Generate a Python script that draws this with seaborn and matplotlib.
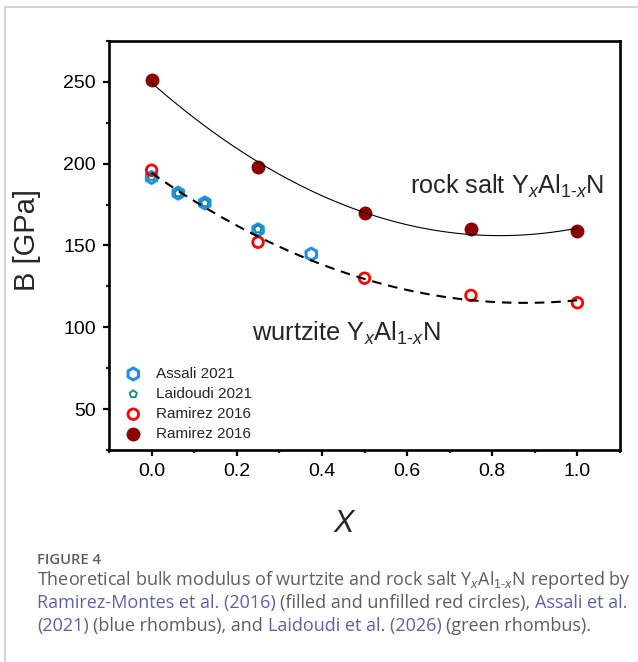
import numpy as np
import pandas as pd
import matplotlib
matplotlib.use("Agg")
import matplotlib.pyplot as plt
from matplotlib.lines import Line2D
import seaborn as sns

# ---------------- data ----------------
x_rs = [0.0, 0.25, 0.5, 0.75, 1.0]
B_rs = [251, 198, 170, 160, 159]           # Ramirez 2016, rock salt (filled)
x_wz = [0.0, 0.25, 0.5, 0.75, 1.0]
B_wz = [196, 152, 130, 119.5, 115]         # Ramirez 2016, wurtzite (open)
x_assali = [0.0, 0.0625, 0.125, 0.25, 0.375]
B_assali = [191.6, 182, 176, 159.6, 144.7]
x_laid = [0.0, 0.0625, 0.125, 0.25]
B_laid = [192, 182, 176, 160]

xticks = [0.0, 0.2, 0.4, 0.6, 0.8, 1.0]
yticks = [50, 100, 150, 200, 250]

W, H = 638, 662
DPI = 100

sns.set_style("ticks")
plt.rcParams["font.family"] = ["Liberation Sans", "DejaVu Sans"]
plt.rcParams["mathtext.fontset"] = "custom"
plt.rcParams["mathtext.rm"] = "Liberation Sans"
plt.rcParams["mathtext.it"] = "Liberation Sans:italic"
plt.rcParams["mathtext.bf"] = "Liberation Sans:bold"

fig = plt.figure(figsize=(W / DPI, H / DPI), dpi=DPI)
fig.patch.set_facecolor("white")

def px(x, y):
    return x / W, 1 - y / H

l, r, t, b = 109, 620, 41, 450
ax = fig.add_axes([l / W, 1 - b / H, (r - l) / W, (b - t) / H])
ax.set_facecolor("white")

# markers
sns.scatterplot(x=x_assali, y=B_assali, ax=ax, marker="h", s=75,
                facecolor="none", edgecolor="#1f8fef", linewidth=2.2,
                label="Assali 2021", zorder=3)
sns.scatterplot(x=x_laid, y=B_laid, ax=ax, marker="p", s=30,
                facecolor="none", edgecolor="#12898c", linewidth=1.3,
                label="Laidoudi 2021", zorder=4)
sns.scatterplot(x=x_wz, y=B_wz, ax=ax, marker="o", s=58,
                facecolor="none", edgecolor="#ff0000", linewidth=2.0,
                label="Ramirez 2016", zorder=4)
sns.scatterplot(x=x_rs, y=B_rs, ax=ax, marker="o", s=100,
                color="#8b0000", edgecolor="#8b0000", linewidth=0,
                label="Ramirez 2016", zorder=4)

# polynomial fits
sns.regplot(x=x_rs, y=B_rs, order=2, ci=None, scatter=False, truncate=True,
            ax=ax, line_kws=dict(color="black", lw=0.8, zorder=6))
sns.regplot(x=x_wz, y=B_wz, order=2, ci=None, scatter=False, truncate=True,
            ax=ax, line_kws=dict(color="black", lw=1.5, dashes=(4.6, 3.3), zorder=6))

ax.set_xlim(-0.1, 1.1)
ax.set_ylim(25, 275)
ax.set_xticks(xticks)
ax.set_xticklabels([f"{v:.1f}" for v in xticks])
ax.set_yticks(yticks)
ax.set_xticks(np.arange(-0.1, 1.15, 0.2), minor=True)
ax.set_yticks([25, 75, 125, 175, 225, 275], minor=True)
ax.tick_params(axis="both", which="major", direction="out", length=4.5,
               width=1.6, labelsize=14, pad=5, colors="black")
ax.tick_params(axis="both", which="minor", direction="out", length=2.5,
               width=1.6)
ax.tick_params(top=False, right=False, which="both")
for s in ax.spines.values():
    s.set_visible(True)
    s.set_linewidth(1.9)
    s.set_color("black")

ax.set_xlabel("$X$", fontsize=22)
ax.xaxis.set_label_coords((345 - l) / (r - l), (b - 509) / (b - t))
ax.set_ylabel("B [GPa]", fontsize=21)
ax.yaxis.set_label_coords((41 - l) / (r - l), (b - 240) / (b - t))

def axc(x, y):
    return (x - l) / (r - l), (b - y) / (b - t)

ax.text(*axc(410, 194), r"rock salt Y$_x$Al$_{1\text{-}x}$N", transform=ax.transAxes,
        fontsize=18.2, ha="left", va="baseline")
ax.text(*axc(252, 341), r"wurtzite Y$_x$Al$_{1\text{-}x}$N", transform=ax.transAxes,
        fontsize=18.4, ha="left", va="baseline")

leg = ax.legend(loc="upper left", bbox_to_anchor=axc(126, 367), frameon=False,
                fontsize=11, handlelength=0.95, handletextpad=1.0,
                labelspacing=0.4, borderpad=0, borderaxespad=0)

# ---------------- card frame ----------------
fig.add_artist(Line2D([4.5 / W, 4.5 / W], [0, 1 - 7 / H], color="#c8c8c8", lw=1.1,
                      transform=fig.transFigure))
fig.add_artist(Line2D([4.5 / W, 1], [1 - 7 / H, 1 - 7 / H], color="#c8c8c8", lw=1.1,
                      transform=fig.transFigure))

# ---------------- caption ----------------
GRAY = "#5e5e5e"
LINK = "#5f5fb2"
CAPF = ["Open Sans", "DejaVu Sans"]
renderer = fig.canvas.get_renderer()

def width_of(s, fs, **kw):
    tt = fig.text(0, 0, s, fontsize=fs, family=CAPF, **kw)
    w = tt.get_window_extent(renderer).width
    tt.remove()
    return w

line1 = [(r"Theoretical bulk modulus of wurtzite and rock salt Y$_x$Al$_{1\text{-}x}$N reported by", GRAY, False)]
line2 = [("Ramirez-Montes et al. (2016)", LINK, True),
         ("(filled and unfilled red circles),", GRAY, True),
         ("Assali et al.", LINK, False)]
line3 = [("(2021)", LINK, True),
         ("(blue rhombus), and", GRAY, True),
         ("Laidoudi et al. (2026)", LINK, True),
         ("(green rhombus).", GRAY, False)]

fs0 = 10.0
w1 = width_of(line1[0][0], fs0)
fs = fs0 * (633 - 37) / w1

def space_w(fs):
    return width_of("x x", fs) - width_of("xx", fs)

sw = space_w(fs)

def draw_line(segs, x0, ybase):
    x = x0
    for txt, col, sp in segs:
        tt = fig.text(*px(x, ybase), txt, fontsize=fs, family=CAPF, color=col,
                      ha="left", va="baseline")
        x += tt.get_window_extent(renderer).width
        if sp:
            x += sw

fs_fig = 10.0 * 64 / width_of("FIGURE 4", 10.0, fontweight="semibold")
fig.text(*px(37, 564), "FIGURE 4", fontsize=fs_fig, family=CAPF, color=GRAY,
         fontweight="semibold", ha="left", va="baseline")
draw_line(line1, 37, 585)
draw_line(line2, 37, 608)
draw_line(line3, 37, 631)

fig.savefig("out.png", dpi=DPI, facecolor="white")
